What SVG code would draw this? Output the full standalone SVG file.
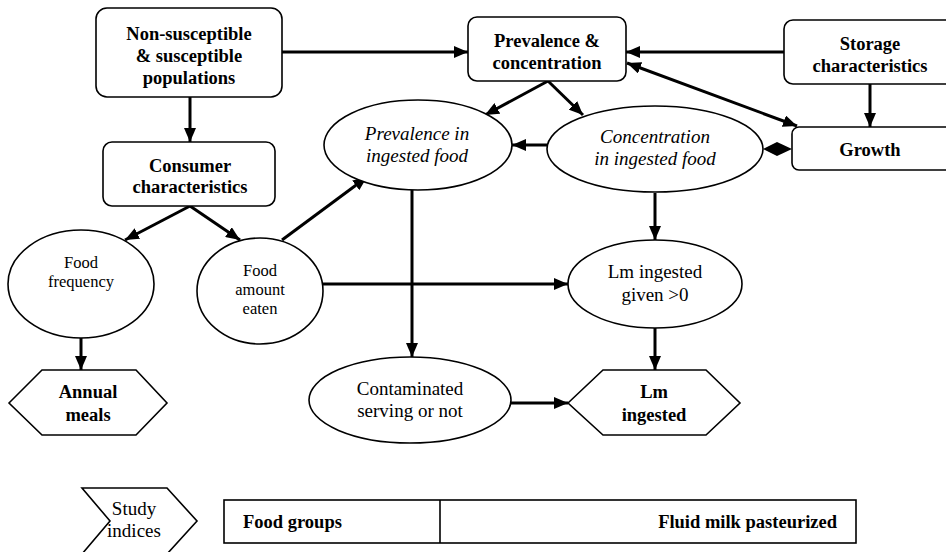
<svg xmlns="http://www.w3.org/2000/svg" width="946" height="552" viewBox="0 0 946 552" font-family="'Liberation Serif', Tinos, 'Times New Roman', 'DejaVu Serif', serif">
<style>
.n{fill:#fff;stroke:#000;stroke-width:1.6}
.c{fill:none;stroke:#000;stroke-width:3}
text{font-family:'Liberation Serif', Tinos, 'Times New Roman', 'DejaVu Serif', serif;fill:#000;text-anchor:middle}
.b{font-weight:bold;font-size:18.5px}
.r{font-size:19px}
.i{font-size:19px;font-style:italic}
.s{font-size:16.5px}
</style>
<defs>
<marker id="ah" viewBox="0 0 14 12" refX="14" refY="6" markerWidth="14" markerHeight="12" markerUnits="userSpaceOnUse" orient="auto-start-reverse">
<path d="M0,0 L14,6 L0,12 z" fill="#000"/>
</marker>
</defs>
<rect width="946" height="552" fill="#fff"/>
<g id="connectors">
<line class="c" x1="282" y1="52" x2="468" y2="52" marker-end="url(#ah)"/>
<line class="c" x1="190" y1="97" x2="190" y2="142" marker-end="url(#ah)"/>
<line class="c" x1="784" y1="52" x2="626" y2="52" marker-end="url(#ah)"/>
<line class="c" x1="627" y1="63" x2="797" y2="126" marker-start="url(#ah)" marker-end="url(#ah)"/>
<line class="c" x1="870" y1="84" x2="870" y2="127" marker-end="url(#ah)"/>
<line class="c" x1="548" y1="81" x2="485" y2="115" marker-end="url(#ah)"/>
<line class="c" x1="548" y1="81" x2="583" y2="115" marker-end="url(#ah)"/>
<line class="c" x1="547" y1="145" x2="512" y2="145" marker-end="url(#ah)"/>
<polygon points="763,149 777,142 792,149 777,156" fill="#000"/>
<line class="c" x1="190" y1="206" x2="125" y2="240" marker-end="url(#ah)"/>
<line class="c" x1="190" y1="206" x2="240" y2="240" marker-end="url(#ah)"/>
<line class="c" x1="282" y1="240" x2="367" y2="177" marker-end="url(#ah)"/>
<line class="c" x1="412" y1="185" x2="412" y2="357" marker-end="url(#ah)"/>
<line class="c" x1="323" y1="284" x2="568" y2="284" marker-end="url(#ah)"/>
<line class="c" x1="655" y1="193" x2="655" y2="240" marker-end="url(#ah)"/>
<line class="c" x1="655" y1="327" x2="655" y2="370" marker-end="url(#ah)"/>
<line class="c" x1="510" y1="403" x2="568" y2="403" marker-end="url(#ah)"/>
<line class="c" x1="81" y1="338" x2="81" y2="370" marker-end="url(#ah)"/>
</g>
<g id="populations">
<rect class="n" x="96" y="8" width="186" height="89" rx="11"/>
<text class="b" x="189" y="40">Non-susceptible</text>
<text class="b" x="189" y="62">&amp; susceptible</text>
<text class="b" x="189" y="84">populations</text>
</g>
<g id="prevalence-concentration">
<rect class="n" x="468" y="17" width="158" height="64" rx="9"/>
<text class="b" x="547" y="47">Prevalence &amp;</text>
<text class="b" x="547" y="69">concentration</text>
</g>
<g id="storage">
<rect class="n" x="784" y="20" width="170" height="64" rx="9"/>
<text class="b" x="870" y="50">Storage</text>
<text class="b" x="870" y="72">characteristics</text>
</g>
<g id="growth">
<rect class="n" x="792" y="127" width="162" height="43" rx="7"/>
<text class="b" x="870" y="156">Growth</text>
</g>
<g id="consumer">
<rect class="n" x="103" y="142" width="172" height="64" rx="9"/>
<text class="b" x="190" y="172">Consumer</text>
<text class="b" x="190" y="193">characteristics</text>
</g>
<g id="prevalence-ingested">
<ellipse class="n" cx="418" cy="145" rx="94" ry="45"/>
<text class="i" x="417" y="140">Prevalence in</text>
<text class="i" x="417" y="162">ingested food</text>
</g>
<g id="concentration-ingested">
<ellipse class="n" cx="655" cy="149" rx="108" ry="43"/>
<text class="i" x="655" y="143">Concentration</text>
<text class="i" x="655" y="165">in ingested food</text>
</g>
<g id="food-frequency">
<ellipse class="n" cx="81" cy="284" rx="73" ry="54"/>
<text class="s" x="81" y="268">Food</text>
<text class="s" x="81" y="287">frequency</text>
</g>
<g id="food-amount">
<ellipse class="n" cx="260" cy="291" rx="63" ry="53"/>
<text class="s" x="260" y="276">Food</text>
<text class="s" x="260" y="295">amount</text>
<text class="s" x="260" y="314">eaten</text>
</g>
<g id="lm-given">
<ellipse class="n" cx="655" cy="284" rx="87" ry="44"/>
<text class="r" x="655" y="278">Lm ingested</text>
<text class="r" x="655" y="301">given &gt;0</text>
</g>
<g id="contaminated">
<ellipse class="n" cx="410" cy="400" rx="101" ry="43"/>
<text class="r" x="410" y="395">Contaminated</text>
<text class="r" x="410" y="417">serving or not</text>
</g>
<g id="annual-meals">
<polygon class="n" points="9,403 42,370 136,370 167,403 136,435 42,435"/>
<text class="b" x="88" y="398">Annual</text>
<text class="b" x="88" y="421">meals</text>
</g>
<g id="lm-ingested">
<polygon class="n" points="568,403 603,370 706,370 740,403 706,435 603,435"/>
<text class="b" x="654" y="398">Lm</text>
<text class="b" x="654" y="421">ingested</text>
</g>
<g id="study-indices">
<polygon class="n" points="82,488 167,488 197,521 167,554 82,554 110,521"/>
<text class="r" x="134" y="515">Study</text>
<text class="r" x="134" y="537">indices</text>
</g>
<g id="table">
<rect class="n" x="224" y="500" width="632" height="43"/>
<line class="n" x1="440" y1="500" x2="440" y2="543"/>
<text class="b" x="243" y="528" style="text-anchor:start">Food groups</text>
<text class="b" x="837" y="528" style="text-anchor:end">Fluid milk pasteurized</text>
</g>
</svg>
